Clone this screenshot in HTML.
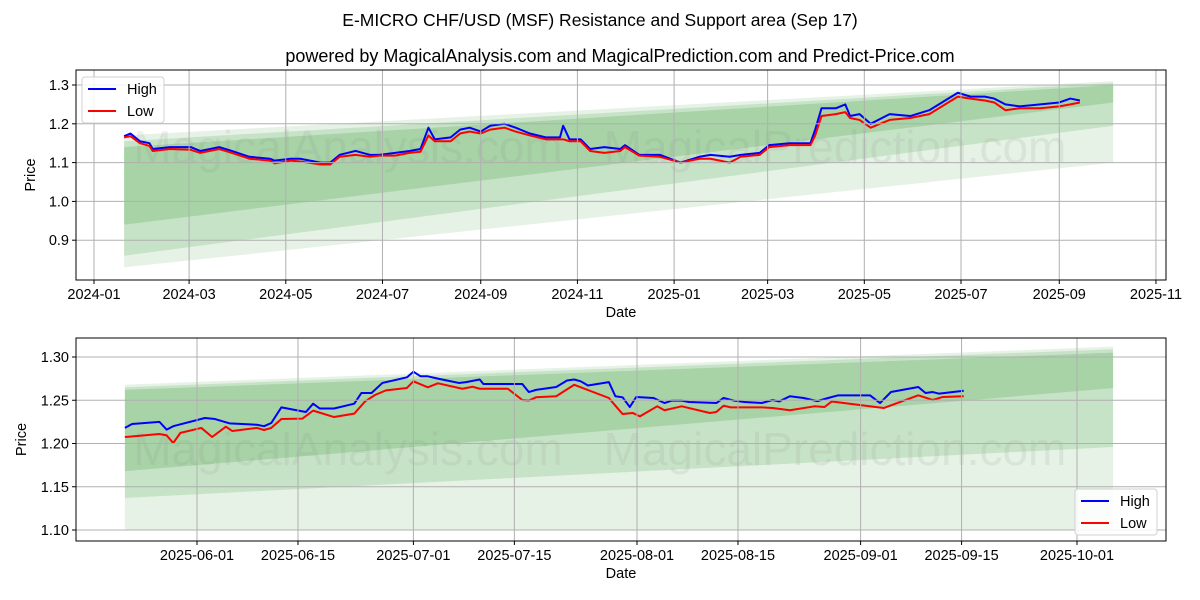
<!DOCTYPE html>
<html><head><meta charset="utf-8"><style>
body{margin:0;background:#fff;}
svg{display:block;font-family:"Liberation Sans","DejaVu Sans",sans-serif;}
</style></head><body>
<svg id="c" width="1200" height="600" viewBox="0 0 1200 600">
<text x="600" y="26" text-anchor="middle" font-size="17.5">E-MICRO CHF/USD (MSF) Resistance and Support area (Sep 17)</text>
<text x="620" y="62" text-anchor="middle" font-size="18">powered by MagicalAnalysis.com and MagicalPrediction.com and Predict-Price.com</text>
<defs>
<clipPath id="clipT"><rect x="76" y="70" width="1090" height="210"/></clipPath>
<clipPath id="clipB"><rect x="76" y="338" width="1090" height="203"/></clipPath>
</defs>
<g id="top"></g>
<g id="bot"></g>
</svg>
<script>
// ---- Top chart data (days since 2024-01-01) ----
const topDays=[19,23,29,35,37,48,61,67,79,87,98,111,114,124,130,143,149,155,165,174,180,190,199,206,211,215,225,231,237,244,250,259,266,275,285,294,296,300,307,313,322,332,335,344,357,370,382,389,401,408,420,426,439,445,452,455,459,468,474,477,483,490,502,515,527,537,545,553,562,568,575,584,597,609,616,622];
const topHigh=[1.168,1.175,1.155,1.15,1.135,1.14,1.14,1.13,1.14,1.13,1.115,1.11,1.105,1.11,1.11,1.1,1.1,1.12,1.13,1.12,1.12,1.125,1.13,1.135,1.19,1.16,1.165,1.185,1.19,1.18,1.195,1.2,1.19,1.175,1.165,1.165,1.195,1.16,1.16,1.135,1.14,1.135,1.145,1.12,1.12,1.1,1.115,1.12,1.115,1.12,1.125,1.145,1.15,1.15,1.15,1.185,1.24,1.24,1.25,1.22,1.225,1.2,1.225,1.22,1.235,1.26,1.28,1.27,1.27,1.265,1.25,1.245,1.25,1.255,1.265,1.26];
const topLow=[1.165,1.168,1.15,1.143,1.13,1.135,1.133,1.125,1.135,1.125,1.11,1.105,1.098,1.105,1.103,1.095,1.095,1.115,1.12,1.115,1.118,1.118,1.125,1.128,1.17,1.155,1.155,1.175,1.18,1.175,1.185,1.19,1.18,1.17,1.16,1.16,1.16,1.155,1.155,1.13,1.125,1.13,1.14,1.118,1.115,1.1,1.11,1.11,1.1,1.115,1.12,1.14,1.145,1.145,1.145,1.17,1.22,1.225,1.23,1.215,1.21,1.19,1.21,1.215,1.225,1.25,1.27,1.265,1.26,1.255,1.235,1.24,1.24,1.245,1.25,1.255];
const topBandDays=[19,643];
const topBands=[[1.17,1.31,0.83,1.10],[1.155,1.305,0.86,1.195],[1.14,1.30,0.94,1.255]];
const topXTicks=["2024-01","2024-03","2024-05","2024-07","2024-09","2024-11","2025-01","2025-03","2025-05","2025-07","2025-09","2025-11"];
const topXTickDays=[0,60,121,182,244,305,366,425,486,547,609,670];
const topYTicks=[0.9,1.0,1.1,1.2,1.3];
// ---- Bottom chart data (days since 2025-06-01) ----
const botHighDays=[-10,-9,-5.2,-4.2,-3.3,1.1,2.5,4.5,8.3,9.3,10.3,11.7,15.1,16.1,17,19,21.8,22.8,24.2,25.7,29.1,30,31,32,33.4,36.3,37.3,39.2,39.7,45.1,46,47,49.8,51.3,52.3,53.2,54.2,57.1,58,59,60,60.9,63.3,64.8,65.8,67.2,68.2,72,73,74.5,75.9,78.3,79.8,80.7,82.2,84.1,86,87.5,88.9,93.3,94.7,96.2,100,101,102,102.9,106.3];
const botHigh=[1.218,1.2225,1.225,1.216,1.22,1.2295,1.2283,1.2233,1.2217,1.22,1.2237,1.2418,1.2364,1.246,1.2405,1.2405,1.246,1.2584,1.2584,1.27,1.2765,1.283,1.2777,1.2777,1.275,1.27,1.271,1.274,1.2688,1.2688,1.2595,1.262,1.2653,1.2728,1.274,1.2719,1.267,1.271,1.2546,1.2534,1.2422,1.2538,1.2526,1.2468,1.2495,1.2495,1.248,1.2468,1.2526,1.2495,1.248,1.2468,1.2503,1.2486,1.2546,1.2526,1.249,1.2526,1.2557,1.2557,1.2468,1.2595,1.2653,1.2584,1.2595,1.2576,1.261];
const botLowDays=[-10,-5.2,-4.2,-3.3,-2.3,0.6,2.1,4,4.9,8.3,9.3,10.3,11.7,14.6,16.1,19,21.8,23.3,24.7,26.2,29.1,30,32,33.4,36.8,38.2,39.2,43.1,45.1,46,47,49.8,52.3,57.1,58,59,60.4,61.4,63.8,64.8,67.2,71.1,72,73,74,78.3,79.8,82.2,85.6,87,88,95.2,100,102,103.4,106.3];
const botLow=[1.2075,1.211,1.2094,1.2005,1.2123,1.218,1.2075,1.2194,1.2144,1.218,1.2156,1.218,1.2283,1.2287,1.238,1.2306,1.2345,1.2486,1.2562,1.2614,1.2642,1.2719,1.265,1.2696,1.2633,1.2656,1.2633,1.2633,1.2503,1.2497,1.2534,1.2546,1.2679,1.2526,1.2437,1.2341,1.2353,1.2314,1.243,1.2384,1.243,1.2353,1.2364,1.2437,1.2418,1.2418,1.241,1.2384,1.243,1.2422,1.2486,1.241,1.2557,1.2503,1.2538,1.2546];
const botBandDays=[-10,127];
const botBands=[[1.268,1.312,1.10,1.10],[1.265,1.309,1.137,1.196],[1.262,1.305,1.168,1.264]];
const botXTicks=["2025-06-01","2025-06-15","2025-07-01","2025-07-15","2025-08-01","2025-08-15","2025-09-01","2025-09-15","2025-10-01"];
const botXTickDays=[0,14,30,44,61,75,92,106,122];
const botYTicks=[1.10,1.15,1.20,1.25,1.30];

const NS="http://www.w3.org/2000/svg";
function mk(p,t,a){const e=document.createElementNS(NS,t);for(const k in a)e.setAttribute(k,a[k]);p.appendChild(e);return e;}
const FS=14.5;
function panel(g,cfg){
  const {L,R,T,B,xs,ys,clip}=cfg;
  const bg=mk(g,'g',{'clip-path':'url(#'+clip+')'});
  cfg.xTickDays.forEach((d,i)=>{const x=xs(d);
    const gl=mk(g,'line',{x1:x,x2:x,y1:T,y2:B,stroke:'#b0b0b0','stroke-width':1});
    
    
    mk(g,'line',{x1:x,x2:x,y1:B,y2:B+4,stroke:'#000'});
    const t=mk(g,'text',{x:x,y:B+19,'text-anchor':'middle','font-size':FS});
    t.textContent=cfg.xTicks[i];
    
    
  });
  cfg.yTicks.forEach(v=>{const y=ys(v);
    const gl=mk(g,'line',{x1:L,x2:R,y1:y,y2:y,stroke:'#b0b0b0','stroke-width':1});
    
    
    mk(g,'line',{x1:L-4,x2:L,y1:y,y2:y,stroke:'#000'});
    const t=mk(g,'text',{x:L-7,y:y+5,'text-anchor':'end','font-size':FS});
    t.textContent=v.toFixed(cfg.yDec);
    
    
  });
  const alphas=[0.1,0.13,0.16];
  cfg.bands.forEach((b,i)=>{const x0=xs(cfg.bandDays[0]),x1=xs(cfg.bandDays[1]);
    const p=mk(bg,'polygon',{points:`${x0},${ys(b[0])} ${x1},${ys(b[1])} ${x1},${ys(b[3])} ${x0},${ys(b[2])}`,fill:'rgb(0,128,0)','fill-opacity':alphas[i]});
    
    
  });
  cfg.wm.forEach(w=>{const t=mk(bg,'text',{x:w[0],y:w[1],'text-anchor':'middle','font-size':46,fill:'#888','fill-opacity':0.13});
    t.textContent=w[2];
    
    
  });
  const line=(days,vals,col,name)=>{const pl=mk(bg,'polyline',{points:days.map((d,i)=>xs(d)+','+ys(vals[i])).join(' '),fill:'none',stroke:col,'stroke-width':2,'stroke-linejoin':'round'});
    
    };
  line(cfg.hd,cfg.hv,'#0000ff','high-line');
  line(cfg.ld,cfg.lv,'#ff0000','low-line');
  const fr=mk(g,'rect',{x:L,y:T,width:R-L,height:B-T,fill:'none',stroke:'#000','stroke-width':1});
  
  
  const xl=mk(g,'text',{x:(L+R)/2,y:B+37,'text-anchor':'middle','font-size':FS});
  xl.textContent='Date';
  
  
  const yl=mk(g,'text',{x:0,y:0,'text-anchor':'middle','font-size':FS,transform:`translate(${cfg.ylx},${(T+B)/2}) rotate(-90)`});
  yl.textContent='Price';
  
  
  const [lx,ly]=cfg.leg;
  const lg=mk(g,'g',{});
  
  
  mk(lg,'rect',{x:lx,y:ly,width:82,height:46,rx:3,fill:'#fff','fill-opacity':0.85,stroke:'#d0d0d0'});
  [['High','#0000ff'],['Low','#ff0000']].forEach((e,i)=>{const yy=ly+12+i*22;
    const en=mk(lg,'g',{});
    
    
    mk(en,'line',{x1:lx+6,x2:lx+34,y1:yy,y2:yy,stroke:e[1],'stroke-width':2});
    const t=mk(en,'text',{x:lx+45,y:yy+5,'font-size':FS});t.textContent=e[0];});
}

panel(document.getElementById('top'),{L:76,R:1166,T:70,B:280,clip:'clipT',
  xs:d=>94+d*1.585,ys:v=>85+(1.3-v)*388,
  xTicks:topXTicks,xTickDays:topXTickDays,yTicks:topYTicks,yDec:1,
  bands:topBands,bandDays:topBandDays,hd:topDays,hv:topHigh,ld:topDays,lv:topLow,
  wm:[[348,163,'MagicalAnalysis.com'],[835,163,'MagicalPrediction.com']],ylx:35,leg:[82,77]});
panel(document.getElementById('bot'),{L:76,R:1166,T:338,B:541,clip:'clipB',
  xs:d=>197+d*7.213,ys:v=>357+(1.3-v)*865,
  xTicks:botXTicks,xTickDays:botXTickDays,yTicks:botYTicks,yDec:2,
  bands:botBands,bandDays:botBandDays,hd:botHighDays,hv:botHigh,ld:botLowDays,lv:botLow,
  wm:[[348,465,'MagicalAnalysis.com'],[835,465,'MagicalPrediction.com']],ylx:26,leg:[1075,489]});
</script>
</body></html>
